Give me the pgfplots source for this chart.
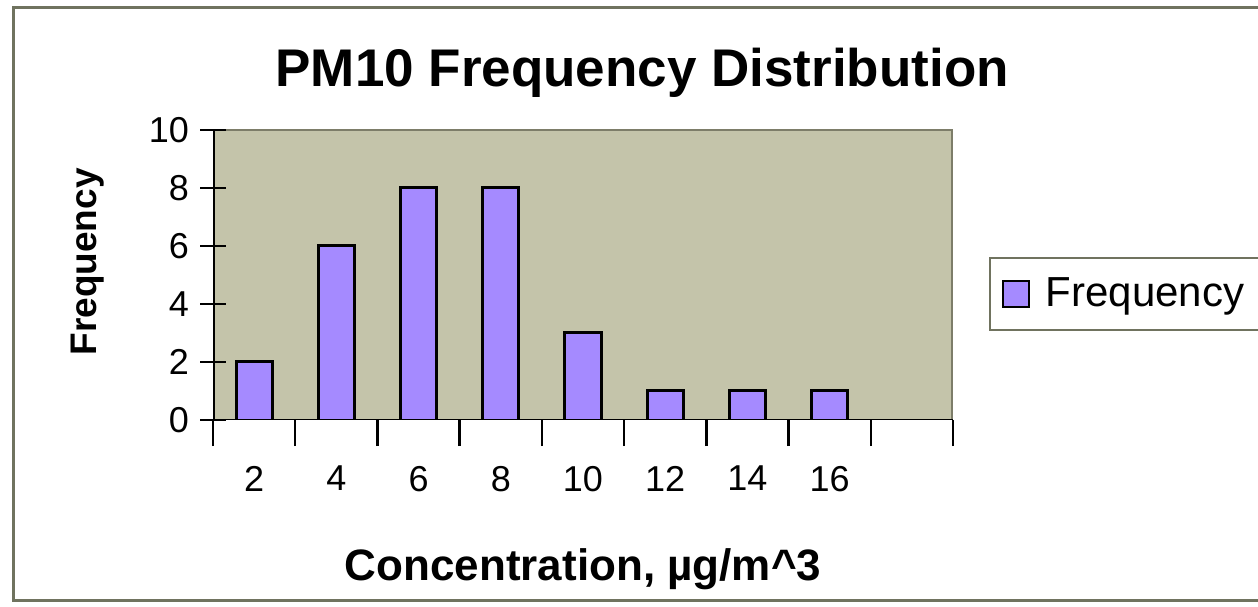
\documentclass[border=0pt]{standalone}
\usepackage{fontspec}
\setmainfont{Liberation Sans}
\usepackage{pgfplots}
\pgfplotsset{compat=1.18}
\definecolor{plotbg}{RGB}{196,196,170}
\definecolor{barfill}{RGB}{165,138,255}
\definecolor{framegray}{RGB}{112,115,95}
\definecolor{areagray}{RGB}{125,125,105}
\begin{document}
\begin{tikzpicture}
\useasboundingbox (0,0) rectangle (629bp,303.5bp);
\fill[white] (0,0) rectangle (629bp,303.5bp);
\draw[framegray, line width=1.5bp] (6.5bp,3bp) rectangle (640bp,299.5bp);
\begin{axis}[
  at={(106.5bp,93.5bp)}, anchor=south west,
  scale only axis, width=370bp, height=145bp,
  xmin=-0.5, xmax=8.5, ymin=0, ymax=10,
  ytick={0,2,...,10},
  xtick={-0.5,0.5,...,8.5}, xticklabels={},
  extra x ticks={0,...,7}, extra x tick labels={2,4,6,8,10,12,14,16},
  extra x tick style={major tick length=0pt},
  xtick pos=left, ytick pos=left,
  tick align=center, major tick length=13bp,
  tick style={black, line width=1.2bp},
  axis on top,
  axis background/.style={fill=plotbg},
  axis line style={draw=none},
  ybar, bar width=0.44,
  legend image code/.code={\draw[#1, line width=1bp] (0bp,-6.5bp) rectangle (13bp,6.5bp);},
  tick label style={font=\fontsize{18bp}{20bp}\selectfont},
  xticklabel style={yshift=-19.5bp},
  yticklabel style={xshift=-2bp},
  /pgf/number format/assume math mode=true,
  title={PM10 Frequency Distribution},
  title style={font=\bfseries\fontsize{26.5bp}{30bp}\selectfont, at={(axis description cs:0.58,1.11)}, anchor=base},
  xlabel={Concentration, µg/m\textasciicircum 3},
  xlabel style={font=\bfseries\fontsize{22bp}{24bp}\selectfont, at={(axis description cs:0.5,-0.552)}, anchor=base},
  ylabel={Frequency},
  ylabel style={font=\bfseries\fontsize{18.5bp}{22bp}\selectfont, at={(axis description cs:-0.170,0.545)}, anchor=center},
  legend style={at={(axis description cs:1.0486,0.4345)}, anchor=west, draw=framegray, line width=1bp, fill=white, font=\fontsize{21bp}{24bp}\selectfont, inner xsep=6bp, inner ysep=8bp, cells={anchor=west}},
]
\draw[areagray, line width=1.5bp] (rel axis cs:0,1) -- (rel axis cs:1,1) -- (rel axis cs:1,0);
\addplot[fill=barfill, draw=black, line width=1.5bp] coordinates {(0,2)(1,6)(2,8)(3,8)(4,3)(5,1)(6,1)(7,1)};
\addlegendentry{\hspace{6bp}Frequency\hspace{70bp}}
\draw[black, line width=1.5bp] (rel axis cs:0,1) -- (rel axis cs:0,0) -- (rel axis cs:1,0);
\end{axis}
\end{tikzpicture}
\end{document}
